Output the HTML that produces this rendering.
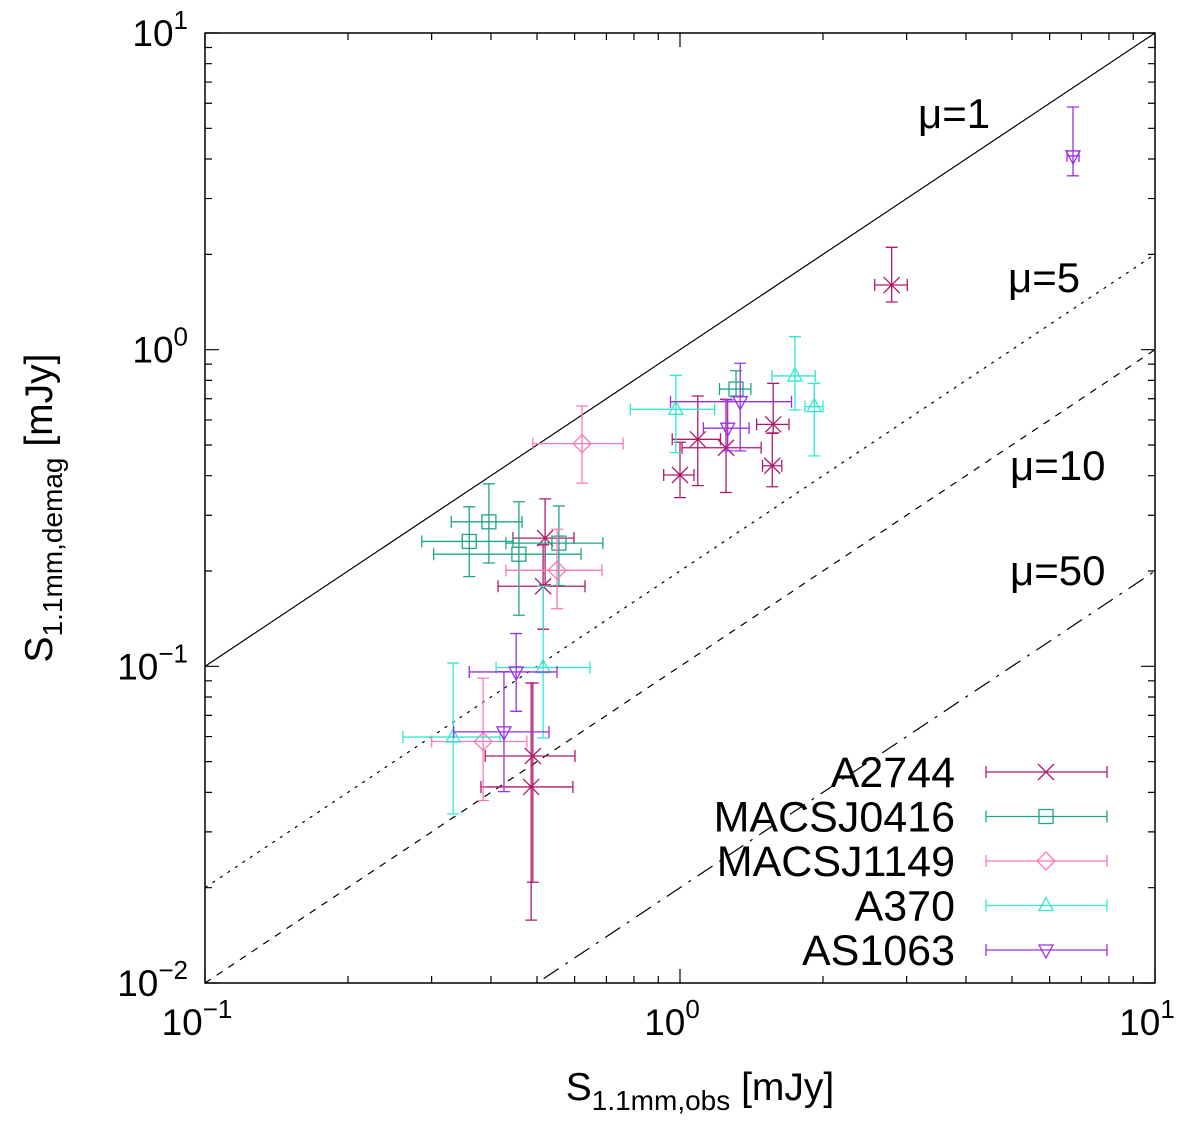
<!DOCTYPE html>
<html><head><meta charset="utf-8"><style>
html,body{margin:0;padding:0;background:#fff;overflow:hidden;width:1200px;height:1132px}
svg{display:block;font-family:"Liberation Sans",sans-serif;overflow:hidden}
</style></head><body>
<svg id="chart" width="1200" height="1132" viewBox="0 0 1200 1132">
<g id="lines"></g><g id="pts"></g><g id="axes"></g><g id="legend"></g>
</svg>
<script>
const categories=["A2744","MACSJ0416","MACSJ1149","A370","AS1063"];
const colors=["#b01a6e","#20a58a","#ff77bb","#30ead0","#9a30e8"];
const markers=["x","sq","dia","tri","itri"];
// each point: [x, xlo, xhi, y, ylo, yhi]
const a2744=[[0.520,0.445,0.598,0.254,0.181,0.338],[0.515,0.414,0.631,0.179,0.131,0.242],[0.490,0.389,0.601,0.0521,0.0208,0.0886],[0.486,0.381,0.595,0.0416,0.0158,0.0886],[2.79,2.57,3.01,1.60,1.414,2.105],[1.571,1.450,1.696,0.581,0.546,0.783],[1.564,1.492,1.638,0.430,0.369,0.544],[1.090,0.963,1.217,0.521,0.372,0.714],[1.250,1.010,1.482,0.490,0.354,0.697],[1.0,0.924,1.070,0.402,0.341,0.510]];
const macsj0416=[[0.396,0.330,0.465,0.286,0.212,0.377],[0.360,0.286,0.445,0.248,0.192,0.319],[0.458,0.303,0.619,0.226,0.145,0.331],[0.556,0.430,0.688,0.245,0.180,0.321],[1.312,1.211,1.41,0.751,0.710,0.858]];
const macsj1149=[[0.622,0.490,0.759,0.505,0.379,0.664],[0.551,0.430,0.685,0.201,0.152,0.271],[0.385,0.300,0.476,0.0579,0.0377,0.0918]];
const a370=[[0.333,0.261,0.418,0.0598,0.0342,0.1024],[0.515,0.410,0.646,0.0991,0.0594,0.179],[0.980,0.786,1.183,0.648,0.473,0.830],[1.746,1.561,1.926,0.826,0.645,1.099],[1.917,1.832,2.0,0.661,0.462,0.783]];
const as1063=[[0.452,0.360,0.551,0.0960,0.0721,0.1269],[0.426,0.334,0.530,0.0621,0.0402,0.0961],[1.339,0.955,1.717,0.685,0.479,0.906],[1.260,1.120,1.398,0.565,0.479,0.694],[6.72,6.53,6.92,4.09,3.54,5.84]];
const series=[a2744,macsj0416,macsj1149,a370,as1063];
const xTicks=[0.1,1,10], xTickLabels=["-1","0","1"];
const yTicks=[0.01,0.1,1,10], yTickLabels=["-2","-1","0","1"];
const muValues=[1,5,10,50], muLabels=["μ=1","μ=5","μ=10","μ=50"], muDash=["","3,6","7,7","18,8,3,8"];
const muLabelPos=[[918,113],[1008,277],[1010,465],[1010,570]];

const L=205,R=1155,T=33,B=983;
const sx=v=>L+(Math.log10(v)+1)*(R-L)/2;
const sy=v=>B-(Math.log10(v)+2)*(B-T)/3;
const NS="http://www.w3.org/2000/svg";
function mk(tag,attrs,parent){const e=document.createElementNS(NS,tag);for(const k in attrs)e.setAttribute(k,attrs[k]);parent.appendChild(e);return e;}
const gl=document.getElementById('lines'),gp=document.getElementById('pts'),ga=document.getElementById('axes'),gleg=document.getElementById('legend');
const svg=document.getElementById('chart');
const clip=mk('clipPath',{id:'pc'},svg);mk('rect',{x:L,y:T,width:R-L,height:B-T},clip);
gl.setAttribute('clip-path','url(#pc)');

muValues.forEach((m,i)=>{
  const l=mk('line',{x1:sx(0.1),y1:sy(0.1/m),x2:sx(10),y2:sy(10/m),stroke:'#000','stroke-width':1.2,'stroke-dasharray':muDash[i]},gl);
  
  
  const t=mk('text',{x:muLabelPos[i][0],y:muLabelPos[i][1]+15,'font-size':42},ga);
  t.textContent=muLabels[i];
  
  
});

function marker(type,x,y,c,g){
  const a={fill:'none',stroke:c,'stroke-width':1.3};
  if(type==='x'){mk('path',Object.assign({d:`M${x-8} ${y-8}L${x+8} ${y+8}M${x-8} ${y+8}L${x+8} ${y-8}`},a),g);}
  else if(type==='sq'){mk('rect',Object.assign({x:x-7,y:y-7,width:14,height:14},a),g);}
  else if(type==='dia'){mk('path',Object.assign({d:`M${x} ${y-9}L${x+9} ${y}L${x} ${y+9}L${x-9} ${y}Z`},a),g);}
  else if(type==='tri'){mk('path',Object.assign({d:`M${x} ${y-8}L${x+7} ${y+5}L${x-7} ${y+5}Z`},a),g);}
  else {mk('path',Object.assign({d:`M${x} ${y+8}L${x+7} ${y-5}L${x-7} ${y-5}Z`},a),g);}
}
function errbar(g,c,x,x1,x2,y,y1,y2){
  const a={stroke:c,'stroke-width':1.3,fill:'none'};
  mk('path',Object.assign({d:`M${x1} ${y}H${x2}M${x1} ${y-6}V${y+6}M${x2} ${y-6}V${y+6}`},a),g);
  if(y1!==null) mk('path',Object.assign({d:`M${x} ${y1}V${y2}M${x-6} ${y1}H${x+6}M${x-6} ${y2}H${x+6}`},a),g);
}
series.forEach((s,si)=>{
  s.forEach((p,pi)=>{
    const g=mk('g',{},gp);
    
    
    errbar(g,colors[si],sx(p[0]),sx(p[1]),sx(p[2]),sy(p[3]),sy(p[4]),sy(p[5]));
    marker(markers[si],sx(p[0]),sy(p[3]),colors[si],g);
  });
  const ly=772+si*44.5;
  const lg=mk('g',{},gleg);
  
  
  const t=mk('text',{x:955,y:ly+15,'font-size':43,'text-anchor':'end'},lg);
  t.textContent=categories[si];
  errbar(lg,colors[si],1046,986,1107,ly,null,null);
  marker(markers[si],1046,ly,colors[si],lg);
});

// frame & ticks
const fr=mk('rect',{x:L,y:T,width:R-L,height:B-T,fill:'none',stroke:'#000','stroke-width':1.5},ga);


let d='';
for(let e=-1;e<=1;e++)for(let k=1;k<=9;k++){const v=k*Math.pow(10,e);if(v>10)break;const len=k===1?14:7;const x=sx(v);d+=`M${x} ${B}V${B-len}M${x} ${T}V${T+len}`;}
for(let e=-2;e<=1;e++)for(let k=1;k<=9;k++){const v=k*Math.pow(10,e);if(v>10)break;const len=k===1?14:7;const y=sy(v);d+=`M${L} ${y}H${L+len}M${R} ${y}H${R-len}`;}
mk('path',{d:d,stroke:'#000','stroke-width':1.2},ga);
xTicks.forEach((v,i)=>{
  const t=mk('text',{x:sx(v)-8,y:B+52,'font-size':37,'text-anchor':'middle'},ga);
  t.innerHTML='10<tspan dy="-17" font-size="26">'+xTickLabels[i].replace('-','−')+'</tspan>';
  
  
});
yTicks.forEach((v,i)=>{
  const t=mk('text',{x:188,y:sy(v)+13,'font-size':37,'text-anchor':'end'},ga);
  t.innerHTML='10<tspan dy="-17" font-size="26">'+yTickLabels[i].replace('-','−')+'</tspan>';
  
  
});
const xt=mk('text',{x:700,y:1100,'font-size':39,'text-anchor':'middle'},ga);
xt.innerHTML='S<tspan dy="10" font-size="28">1.1mm,obs</tspan><tspan dy="-10"> [mJy]</tspan>';


const yt=mk('text',{x:0,y:0,'font-size':39,'text-anchor':'middle',transform:'translate(52,508) rotate(-90)'},ga);
yt.innerHTML='S<tspan dy="10" font-size="28">1.1mm,demag</tspan><tspan dy="-10"> [mJy]</tspan>';


</script>
</body></html>
